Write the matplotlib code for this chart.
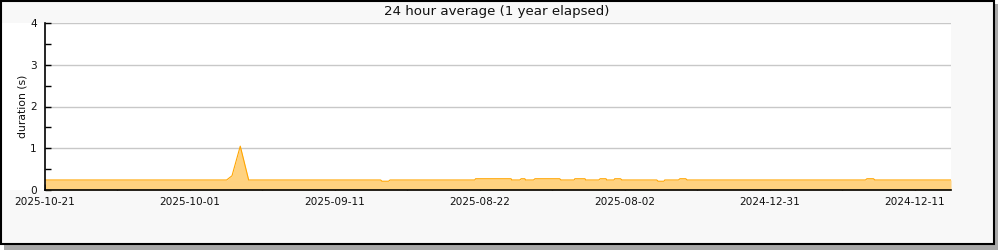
import matplotlib
matplotlib.use("Agg")
import matplotlib.pyplot as plt
from matplotlib.patches import Rectangle
from matplotlib.ticker import MultipleLocator

# ---- data (days elapsed along the axis, 24h average duration in seconds) ----
days = [0.0, 25.06, 25.5, 25.8, 26.94, 28.1,
        46.3, 46.5, 47.4, 47.6,
        59.3, 59.4, 64.3, 64.4,
        65.5, 65.7, 66.2, 66.3,
        67.4, 67.6, 71.0, 71.2,
        73.0, 73.1, 74.5, 74.6,
        76.4, 76.6, 77.4, 77.5,
        78.5, 78.6, 79.4, 79.6,
        84.4, 84.6, 85.4, 85.5,
        87.4, 87.6, 88.4, 88.6,
        113.2, 113.4, 114.3, 114.5,
        125.0]
durations = [0.24, 0.24, 0.30, 0.34, 1.05, 0.24,
             0.24, 0.21, 0.21, 0.24,
             0.24, 0.27, 0.27, 0.24,
             0.24, 0.27, 0.27, 0.24,
             0.24, 0.27, 0.27, 0.24,
             0.24, 0.27, 0.27, 0.24,
             0.24, 0.27, 0.27, 0.24,
             0.24, 0.27, 0.27, 0.24,
             0.24, 0.21, 0.21, 0.24,
             0.24, 0.27, 0.27, 0.24,
             0.24, 0.27, 0.27, 0.24,
             0.24]
tick_days = [0, 20, 40, 60, 80, 100, 120]
tick_labels = ["2025-10-21", "2025-10-01", "2025-09-11", "2025-08-22",
               "2025-08-02", "2024-12-31", "2024-12-11"]
title = "24 hour average (1 year elapsed)"
ylabel = "duration (s)"

plt.rcParams['font.family'] = ['DejaVu Sans']

W, H = 1000, 250
fig = plt.figure(figsize=(W / 100, H / 100), dpi=100)
fig.patch.set_facecolor("white")

def frect(x0, y0, w, h, **kw):
    """rectangle in pixel coords, y measured from the top"""
    fig.patches.append(Rectangle((x0 / W, 1 - (y0 + h) / H), w / W, h / H,
                                 transform=fig.transFigure, **kw))

# shadow, panel, white plot region, border
frect(4, 4, 994, 246, facecolor="#a8a8a8", edgecolor="none", zorder=-10)
frect(0, 0, 994, 244, facecolor="#f8f8f8", edgecolor="none", zorder=-9)
frect(0, 23, 951, 167, facecolor="white", edgecolor="none", zorder=-8)
frect(0.75, 0.75, 993, 243, facecolor="none", edgecolor="black",
      linewidth=1.5, zorder=10)

ax = fig.add_axes([45 / W, 1 - 190 / H, 906 / W, 167 / H])
ax.set_zorder(1)
ax.set_facecolor("none")
ax.fill_between(days, durations, 0, color="#ffd280", linewidth=0, zorder=2)
ax.plot(days, durations, color="#ffa500", linewidth=0.8, zorder=3)

ax.set_xlim(0, 125)
ax.set_ylim(0, 4)
ax.set_xticks(tick_days)
ax.set_xticklabels(tick_labels)
ax.xaxis.set_minor_locator(MultipleLocator(10))
ax.yaxis.set_major_locator(MultipleLocator(1))
ax.yaxis.set_minor_locator(MultipleLocator(0.5))
ax.tick_params(axis="both", which="both", direction="in", length=4.5,
               width=1, color="black", labelsize=7.6, labelcolor="#111111")
ax.tick_params(axis="y", which="minor", length=4)
ax.tick_params(axis="x", which="major", pad=5)
ax.tick_params(axis="y", which="major", pad=6)
ax.grid(axis="y", which="major", color="#c8c8c8", linewidth=1, zorder=1)
ax.set_axisbelow(True)
for s in ("top", "right"):
    ax.spines[s].set_visible(False)
for s in ("left", "bottom"):
    ax.spines[s].set_linewidth(1.2)
    ax.spines[s].set_zorder(4)

ax.set_ylabel(ylabel, fontsize=7.8, color="#111111", labelpad=2)
fig.text(497 / W, 1 - 11 / H, title, ha="center", va="center",
         fontsize=9.6, color="#111111")

fig.savefig("out.png", dpi=100, facecolor=fig.get_facecolor())
